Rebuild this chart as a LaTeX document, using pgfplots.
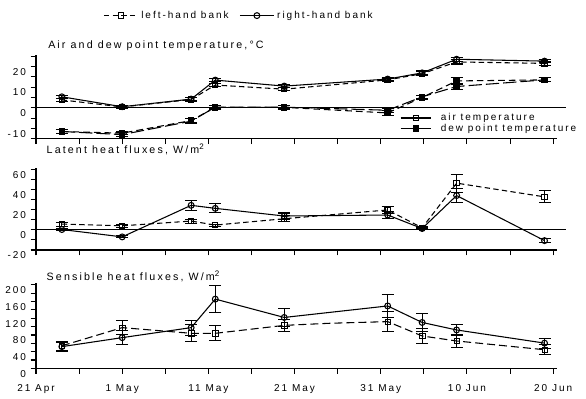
\documentclass[border=0pt]{standalone}
\usepackage{fontspec}
\setmainfont{Liberation Sans}[LetterSpace=20]
\usepackage{pgfplots}
\usepackage{pgfplotstable}
\pgfplotsset{compat=1.18}

% ---------------- data (day 0 = 21 April) ----------------
\pgfplotstableread{
x y e
3 5.3 0.8
10 0.5 0.8
18 4.2 0.8
20.8 13.4 0.8
28.8 10.5 0.8
40.8 13.9 0.8
44.8 16.9 1
48.8 23.5 1
59 22.6 0.8
}\airR
\pgfplotstableread{
x y e
3 3.8 0.8
10 0.4 0.8
18 4.0 0.8
20.8 11.0 0.8
28.8 9.0 0.8
40.8 13.5 0.8
44.8 16.5 1
48.8 22.2 1
59 21.5 0.8
}\airL
\pgfplotstableread{
x y e
3 -11.5 0.8
10 -13.0 1
18 -6.5 1.2
20.8 0.3 0.8
28.8 0.3 0.8
40.8 -1.2 1
44.8 5.3 0.8
48.8 10.3 1.5
59 13.5 1
}\dewR
\pgfplotstableread{
x y e
3 -11.5 0.8
10 -12.3 0.8
18 -6.2 1
20.8 0.2 0.8
28.8 0.2 0.8
40.8 -2.5 1.2
44.8 5.0 0.8
48.8 13.0 1.5
59 13.5 1
}\dewL
\pgfplotstableread{
x y e
3 0.3 1
10 -7 1
18 24.3 5
20.8 21.3 4.5
28.8 13.7 3
40.8 14.7 3.5
44.8 1.3 1
48.8 34 7
59 -10.7 2
}\latR
\pgfplotstableread{
x y e
3 5.7 2
10 4 1.5
18 8.7 2
20.8 4.7 1
28.8 11 3
40.8 19.7 3.5
44.8 2 1
48.8 46.3 9
59 32.7 6
}\latL
\pgfplotstableread{
x y e
3 52 11
10 73.6 17
18 97.6 18
20.8 166 32
28.8 122 21
40.8 149.6 27
44.8 110 21
48.8 92 14
59 60.5 12
}\senR
\pgfplotstableread{
x y e
3 54 11
10 97.6 17
18 84 20
20.8 84 18
28.8 103 15
40.8 112 24
44.8 77.6 17
48.8 65.6 15
59 44.6 12
}\senL
\pgfplotstableread{
x y
3 54
10 97.6
18 84
20.8 84
28.8 103
34 108
40.8 112
44.8 77.6
48.8 65.6
59 44.6
}\senLline

\pgfplotsset{
  panel/.style={
    scale only axis, width=391.1pt, xmin=0, xmax=60.5,
    axis x line=bottom, axis y line=left,
    axis line style={-, line width=0.8pt},
    tick align=outside, major tick length=4pt, minor tick length=4pt,
    every tick/.style={black, line width=0.8pt},
    xtick={0,10,...,60}, minor xtick={5,15,...,55}, xticklabels={},
    tick label style={font=\fontsize{7.5}{9}\selectfont},
    yticklabel style={yshift=-4pt},
    /pgf/number format/assume math mode=true,
    clip=false,
    title style={font=\fontsize{8}{10}\selectfont, anchor=west, inner sep=0pt},
  },
  ebars/.style={
    error bars/y dir=both, error bars/y explicit,
    error bars/error bar style={solid, line width=0.8pt},
    error bars/error mark options={solid, rotate=90, mark size=4.5pt, line width=0.8pt},
  },
  Rline/.style={black, line width=0.8pt, solid, mark=o, mark size=2.2pt, mark options={solid, fill=white}},
  Lline/.style={black, line width=0.8pt, dash pattern=on 4pt off 2.5pt, mark=square, mark size=2pt, mark options={solid, fill=white}},
  dewRline/.style={black, line width=0.8pt, dash pattern=on 10pt off 3pt, mark=square*, mark size=2pt, mark options={solid}},
  dewLline/.style={black, line width=0.8pt, dash pattern=on 5pt off 3pt, mark=square*, mark size=2pt, mark options={solid}},
  legend image code/.code={\draw[mark repeat=2, mark phase=2, #1] plot coordinates {(0cm,0cm) (0.45cm,0cm) (0.9cm,0cm)};},
}

\begin{document}
\begin{tikzpicture}
\useasboundingbox (0,0) rectangle (439.5pt,299.25pt);

% ---------------- Air and dew point temperature ----------------
\begin{axis}[panel, at={(27pt,195.2pt)}, anchor=south west, height=62.7pt,
  ymin=-15, ymax=25.5, ytick={-10,0,10,20}, minor ytick={-15,-5,5,15,25},
  title={Air and dew point temperature,°C},
  title style={at={(axis description cs:0.023,1.015)}},
  legend cell align=left,
  legend style={at={(axis description cs:0.695,0.185)}, anchor=west, draw=none, fill=none,
    font=\fontsize{7.5}{9}\selectfont, row sep=-3pt, inner sep=1pt,
    /tikz/every odd column/.append style={column sep=5pt}},
  legend image code/.code={\draw[mark repeat=2, mark phase=2, #1] plot coordinates {(0cm,0cm) (0.4cm,0cm) (0.8cm,0cm)};},
]
\addplot[black, line width=0.8pt, forget plot] coordinates {(0,0) (61.5,0)};
\addplot[Lline, ebars, forget plot] table[x=x, y=y, y error=e] {\airL};
\addplot[Rline, ebars, forget plot] table[x=x, y=y, y error=e] {\airR};
\addplot[dewLline, ebars, forget plot] table[x=x, y=y, y error=e] {\dewL};
\addplot[dewRline, ebars, forget plot] table[x=x, y=y, y error=e] {\dewR};
\addlegendimage{black, line width=0.8pt, solid, mark=square, mark size=2pt, mark options={fill=white}}
\addlegendentry{air temperature}
\addlegendimage{black, line width=0.8pt, solid, mark=square*, mark size=2pt}
\addlegendentry{dew point temperature}
\end{axis}

% ---------------- Latent heat fluxes ----------------
\begin{axis}[panel, at={(27pt,111.75pt)}, anchor=south west, height=61.25pt,
  ymin=-20, ymax=61, ytick={-20,0,20,40,60}, minor ytick={-10,10,30,50},
  title={Latent heat fluxes, W/m\textsuperscript{2}},
  title style={at={(axis description cs:0.02,1.13)}},
  legend cell align=left,
  legend style={at={(axis description cs:0.39,2.87)}, anchor=center, draw=none, fill=none,
    legend columns=2, font=\fontsize{7.5}{9}\selectfont,
    /tikz/every even column/.append style={column sep=6pt}},
]
\addplot[black, line width=0.8pt, forget plot] coordinates {(0,0) (61.5,0)};
\addplot[Lline, ebars, forget plot] table[x=x, y=y, y error=e] {\latL};
\addplot[Rline, ebars, forget plot] table[x=x, y=y, y error=e] {\latR};
\addlegendimage{Lline}
\addlegendentry{left-hand bank}
\addlegendimage{Rline}
\addlegendentry{right-hand bank}
\end{axis}

% ---------------- Sensible heat fluxes ----------------
\begin{axis}[panel, at={(27pt,23pt)}, anchor=south west, height=63.8pt,
  ymin=0, ymax=204, ytick={0,40,...,200}, minor ytick={20,60,...,180},
  xticklabels={21 Apr, 1 May, 11 May, 21 May, 31 May, 10 Jun, 20 Jun},
  xticklabel style={yshift=-4.5pt},
  title={Sensible heat fluxes, W/m\textsuperscript{2}},
  title style={at={(axis description cs:0.02,0.985)}},
]
\addplot[black, line width=0.8pt, dash pattern=on 6pt off 3pt, forget plot] table[x=x, y=y] {\senLline};
\addplot[black, only marks, mark=square, mark size=2pt, mark options={solid, fill=white}, ebars, forget plot] table[x=x, y=y, y error=e] {\senL};
\addplot[Rline, ebars, forget plot] table[x=x, y=y, y error=e] {\senR};
\end{axis}
\end{tikzpicture}
\end{document}
